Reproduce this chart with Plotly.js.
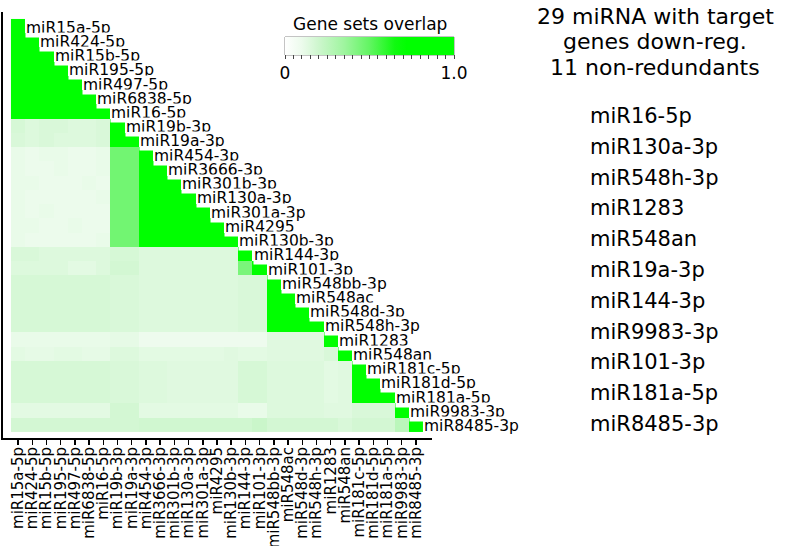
<!DOCTYPE html>
<html>
<head>
<meta charset="utf-8">
<script src="https://cdn.plot.ly/plotly-3.0.1.min.js"></script>
<style>
  html, body { margin: 0; padding: 0; background: #fff; }
  #chart { width: 790px; height: 546px; }
</style>
</head>
<body>
<div id="chart"></div>
<script>
// ---- data ----
const mirnas = ["miR15a-5p","miR424-5p","miR15b-5p","miR195-5p","miR497-5p","miR6838-5p","miR16-5p",
  "miR19b-3p","miR19a-3p","miR454-3p","miR3666-3p","miR301b-3p","miR130a-3p","miR301a-3p","miR4295",
  "miR130b-3p","miR144-3p","miR101-3p","miR548bb-3p","miR548ac","miR548d-3p","miR548h-3p","miR1283",
  "miR548an","miR181c-5p","miR181d-5p","miR181a-5p","miR9983-3p","miR8485-3p"];

// lower-triangular overlap values, row i holds columns 0..i
const overlap = [
  [1],
  [1,1],
  [1,1,1],
  [1,1,1,1],
  [1,1,1,1,1],
  [1,1,1,1,1,1],
  [1,1,1,1,1,1,1],
  [0.17,0.15,0.16,0.16,0.15,0.15,0.16,1],
  [0.16,0.15,0.16,0.15,0.15,0.15,0.16,1,1],
  [0.11,0.10,0.11,0.11,0.10,0.10,0.11,0.46,0.46,1],
  [0.11,0.10,0.10,0.11,0.10,0.10,0.11,0.46,0.46,1,1],
  [0.11,0.11,0.10,0.10,0.10,0.11,0.10,0.46,0.46,1,1,1],
  [0.11,0.10,0.10,0.10,0.10,0.10,0.11,0.46,0.46,1,1,1,1],
  [0.11,0.10,0.11,0.10,0.10,0.10,0.10,0.46,0.46,1,1,1,1,1],
  [0.11,0.11,0.10,0.10,0.11,0.10,0.10,0.46,0.46,1,1,1,1,1,1],
  [0.11,0.10,0.10,0.10,0.10,0.10,0.11,0.46,0.46,1,1,1,1,1,1,1],
  [0.16,0.16,0.15,0.15,0.15,0.15,0.15,0.17,0.17,0.15,0.15,0.15,0.15,0.15,0.15,0.15,1],
  [0.15,0.15,0.15,0.15,0.13,0.13,0.15,0.18,0.18,0.15,0.15,0.15,0.15,0.15,0.15,0.15,0.44,1],
  [0.17,0.17,0.17,0.17,0.17,0.17,0.17,0.16,0.16,0.15,0.15,0.15,0.15,0.15,0.15,0.15,0.16,0.16,1],
  [0.17,0.17,0.17,0.17,0.17,0.17,0.17,0.16,0.16,0.15,0.15,0.15,0.15,0.15,0.15,0.15,0.16,0.16,1,1],
  [0.17,0.17,0.17,0.17,0.17,0.17,0.17,0.16,0.16,0.15,0.15,0.15,0.15,0.15,0.15,0.15,0.16,0.16,1,1,1],
  [0.17,0.17,0.17,0.17,0.17,0.17,0.17,0.16,0.16,0.15,0.15,0.15,0.15,0.15,0.15,0.15,0.16,0.16,1,1,1,1],
  [0.11,0.11,0.11,0.11,0.11,0.11,0.11,0.12,0.12,0.09,0.09,0.09,0.09,0.09,0.09,0.09,0.09,0.09,0.14,0.14,0.14,0.14,1],
  [0.13,0.12,0.12,0.13,0.13,0.12,0.12,0.15,0.15,0.13,0.13,0.13,0.13,0.13,0.13,0.14,0.13,0.13,0.14,0.14,0.14,0.14,0.16,1],
  [0.17,0.17,0.17,0.17,0.17,0.17,0.17,0.16,0.16,0.15,0.15,0.14,0.14,0.14,0.14,0.14,0.17,0.17,0.15,0.15,0.15,0.15,0.13,0.14,1],
  [0.17,0.17,0.17,0.17,0.17,0.17,0.17,0.16,0.16,0.15,0.15,0.14,0.14,0.14,0.14,0.14,0.17,0.17,0.15,0.15,0.15,0.15,0.13,0.14,1,1],
  [0.17,0.17,0.17,0.17,0.17,0.17,0.17,0.16,0.16,0.15,0.15,0.14,0.14,0.14,0.14,0.14,0.17,0.17,0.15,0.15,0.15,0.15,0.13,0.14,1,1,1],
  [0.13,0.13,0.13,0.13,0.13,0.13,0.13,0.18,0.18,0.13,0.13,0.13,0.13,0.13,0.13,0.13,0.11,0.11,0.15,0.15,0.15,0.15,0.14,0.14,0.16,0.16,0.16,1],
  [0.18,0.18,0.18,0.18,0.18,0.18,0.18,0.18,0.18,0.19,0.19,0.19,0.19,0.19,0.19,0.19,0.19,0.21,0.18,0.18,0.18,0.18,0.18,0.16,0.18,0.18,0.18,0.26,1]
];

const nonRedundant = ["miR16-5p","miR130a-3p","miR548h-3p","miR1283","miR548an","miR19a-3p",
  "miR144-3p","miR9983-3p","miR101-3p","miR181a-5p","miR8485-3p"];
const sideTitle = ["29 miRNA with target","genes down-reg.","11 non-redundants"];
const colorbarTitle = "Gene sets overlap";
const colorbarTickLabels = ["0","1.0"];

// ---- build ----
const n = mirnas.length;
const idx = mirnas.map((_, i) => i);
const z = overlap.map(row => row.concat(new Array(n - row.length).fill(null)));

const FONT = "DejaVu Sans, Verdana, sans-serif";

// pixel helpers for plot area (left 3, right 432, top 12, bottom 438)
const PL = 3, PR = 432, PT = 12, PB = 438;
const px2paperX = p => (p - PL) / (PR - PL);
const py2paperY = p => (PB - p) / (PB - PT);

const cbTickVals = [];
const cbTickText = [];
for (let k = 0; k <= 20; k++) {
  cbTickVals.push(k / 20);
  cbTickText.push(k === 0 ? colorbarTickLabels[0] : (k === 20 ? colorbarTickLabels[1] : ""));
}

// colorbar geometry (pixels)
const CB_L = 285, CB_R = 454, CB_T = 37, CB_B = 55;

const trace = {
  type: "heatmap",
  x: idx,
  y: idx,
  z: z,
  zmin: 0,
  zmax: 1,
  hoverongaps: false,
  colorscale: [
    [0, "#ffffff"], [0.1, "#ecfbec"], [0.2, "#cdf6cd"], [0.35, "#9ff59f"],
    [0.5, "#62f562"], [0.65, "#10fa10"], [0.72, "#00ff00"], [1, "#00ff00"]
  ],
  colorbar: {
    orientation: "h",
    xref: "paper", yref: "paper",
    x: px2paperX((CB_L + CB_R) / 2), xanchor: "center",
    y: py2paperY(CB_T), yanchor: "top",
    len: CB_R - CB_L, lenmode: "pixels",
    thickness: CB_B - CB_T, thicknessmode: "pixels",
    xpad: 0, ypad: 0,
    outlinewidth: 0,
    tickmode: "array", tickvals: cbTickVals, ticktext: cbTickText,
    ticks: "outside", ticklen: 4, tickwidth: 1, tickcolor: "#444",
    tickfont: { family: FONT, size: 17, color: "#000" }
  }
};

const annotations = [];
mirnas.forEach((name, i) => {
  annotations.push({
    x: i + 0.5, y: i, xref: "x", yref: "y",
    xanchor: "left", yanchor: "middle", yshift: -1.5,
    text: name, showarrow: false,
    bgcolor: "#ffffff", borderpad: 0,
    font: { family: FONT, size: 15.5, color: "#000" }
  });
});
annotations.push({
  x: px2paperX(369.5), y: py2paperY(24), xref: "paper", yref: "paper",
  xanchor: "center", yanchor: "middle", text: colorbarTitle, showarrow: false,
  font: { family: FONT, size: 17, color: "#000" }
});
sideTitle.forEach((t, k) => {
  annotations.push({
    x: px2paperX(655), y: py2paperY(16 + 25.5 * k), xref: "paper", yref: "paper",
    xanchor: "center", yanchor: "middle", text: t, showarrow: false,
    font: { family: FONT, size: 22, color: "#000" }
  });
});
nonRedundant.forEach((t, k) => {
  annotations.push({
    x: px2paperX(588), y: py2paperY(116 + 30.8 * k), xref: "paper", yref: "paper",
    xanchor: "left", yanchor: "middle", text: t, showarrow: false,
    font: { family: FONT, size: 21, color: "#000" }
  });
});

const layout = {
  width: 790, height: 546,
  margin: { l: PL, r: 790 - PR, t: PT, b: 546 - PB, pad: 0, autoexpand: false },
  paper_bgcolor: "#ffffff", plot_bgcolor: "#ffffff",
  showlegend: false,
  xaxis: {
    range: [-1.06, 29.13],
    tickmode: "array", tickvals: idx, ticktext: mirnas,
    tickangle: -90, ticks: "outside", ticklen: 5, tickwidth: 1.5, tickcolor: "#000",
    ticklabelstandoff: -4,
    tickfont: { family: FONT, size: 15, color: "#000" },
    showline: true, linecolor: "#000", linewidth: 2,
    showgrid: false, zeroline: false, automargin: false, fixedrange: true
  },
  yaxis: {
    range: [28.94, -0.99],
    showticklabels: false, ticks: "",
    showline: true, linecolor: "#000", linewidth: 2,
    showgrid: false, zeroline: false, automargin: false, fixedrange: true
  },
  shapes: [{
    type: "rect", xref: "paper", yref: "paper",
    x0: px2paperX(CB_L), x1: px2paperX(CB_R), y0: py2paperY(CB_B), y1: py2paperY(CB_T),
    line: { color: "#888888", width: 1 }, fillcolor: "rgba(0,0,0,0)", layer: "above"
  }],
  annotations: annotations
};

Plotly.newPlot("chart", [trace], layout, { displayModeBar: false, staticPlot: true });
</script>
</body>
</html>
